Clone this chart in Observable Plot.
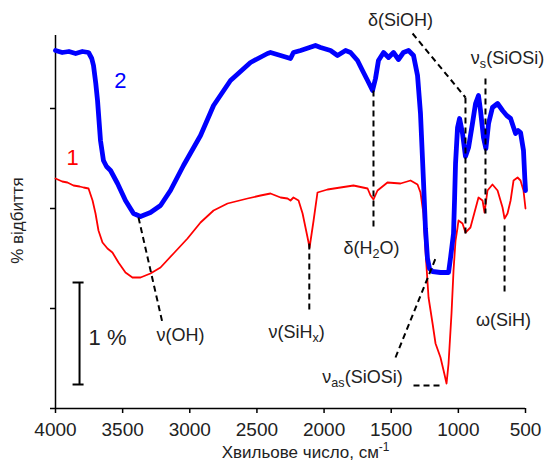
<!DOCTYPE html>
<html><head><meta charset="utf-8">
<script src="https://cdn.jsdelivr.net/npm/d3@7"></script>
<script src="https://cdn.jsdelivr.net/npm/@observablehq/plot@0.6"></script>
<style>body{margin:0;background:#fff} svg{display:block;overflow:visible}</style>
</head><body><div id="chart"></div>
<script>
// Curve 2 (blue): wavenumber (cm-1) and reflectance (%, offset scale)
const blueWn = [4000,3950,3900,3850,3800,3754,3730,3717,3700,3687,3665,3643,3620,3590,3538,3479,3419,3367,3293,3218,3144,3047,2920,2823,2697,2548,2421,2399,2324,2250,2228,2175,2064,2026,1952,1900,1840,1803,1751,1714,1676,1639,1617,1595,1557,1520,1483,1446,1409,1371,1334,1304,1282,1260,1245,1230,1215,1192,1133,1073,1058,1036,1028,1021,1006,991,969,947,924,895,872,850,835,813,795,775,746,708,671,640,611,574,555,537,515,505,500];
const blueR  = [3.58,3.56,3.57,3.55,3.57,3.56,3.50,3.43,3.25,3.08,2.68,2.48,2.42,2.38,2.25,2.08,1.95,1.92,1.96,2.03,2.18,2.43,2.73,3.03,3.28,3.46,3.55,3.56,3.53,3.50,3.56,3.58,3.63,3.61,3.58,3.53,3.58,3.56,3.48,3.38,3.28,3.18,3.30,3.48,3.56,3.51,3.56,3.49,3.56,3.58,3.53,3.33,2.95,2.28,1.80,1.50,1.40,1.37,1.36,1.36,1.51,1.75,2.10,2.45,2.81,2.90,2.75,2.52,2.61,2.85,3.05,3.13,2.98,2.71,2.60,2.85,3.01,3.05,2.98,2.93,2.90,2.75,2.78,2.76,2.58,2.30,2.18];
// Curve 1 (red)
const redWn = [4000,3950,3911,3866,3820,3791,3754,3724,3702,3680,3650,3613,3576,3531,3479,3427,3367,3293,3218,3121,3017,2920,2823,2719,2570,2473,2399,2324,2272,2250,2228,2190,2160,2123,2108,2078,2049,1974,1878,1781,1676,1654,1632,1602,1528,1431,1356,1304,1282,1260,1245,1222,1192,1170,1133,1110,1088,1073,1051,1036,1021,1006,999,969,947,910,872,850,820,805,783,746,708,671,656,634,611,589,559,537,515,500];
const redR  = [2.30,2.27,2.26,2.23,2.22,2.21,2.20,2.08,1.95,1.78,1.66,1.60,1.56,1.46,1.36,1.31,1.31,1.35,1.41,1.55,1.70,1.86,1.98,2.05,2.10,2.13,2.15,2.11,2.10,2.08,2.11,2.08,1.95,1.71,1.61,1.88,2.16,2.19,2.21,2.23,2.20,2.13,2.09,2.18,2.26,2.25,2.28,2.24,2.16,1.95,1.58,1.11,0.85,0.65,0.51,0.38,0.25,0.45,0.95,1.38,1.68,1.81,1.88,1.85,1.76,1.81,2.00,2.11,2.08,1.96,2.18,2.24,2.18,2.01,1.90,1.95,2.08,2.28,2.31,2.28,2.18,2.00];

const xTicks = [4000,3500,3000,2500,2000,1500,1000,500];
const yTicks = [0,1,2,3];

// Band assignment labels
const bandLabels = ["ν(OH)","ν(SiH_{x})","δ(H_{2}O)","δ(SiOH)","ν_{s}(SiOSi)","ω(SiH)","ν_{as}(SiOSi)"];
const bandLabelWn = [3069,2205,1647,1431,634,664,1714];
const bandLabelR  = [0.73,0.76,1.60,3.88,3.50,0.88,0.31];
// Dashed guide segments
const guideWn1 = [3382,2110,1632,1341,947,798,656,1468,1334];
const guideR1  = [1.91,1.65,3.18,3.75,3.11,3.30,1.83,0.51,0.23];
const guideWn2 = [3204,2110,1632,947,947,798,656,1170,1133];
const guideR2  = [0.86,0.98,1.78,3.11,1.73,1.95,1.15,1.50,0.23];
// Curve numbers
const curveNames = ["2","1"];
const curveNameWn = [3516,3873];
const curveNameR = [3.28,2.51];
const curveColors = ["#0000ff","#ff0000"];
// 1 % scale bar
const scaleBarWn = 3821, scaleBarLo = 0.24, scaleBarHi = 1.26, scaleCapWn = [3873,3791];
const scaleText = "1 %", scaleTextWn = 3754, scaleTextR = 0.71;
const xTitle = "Хвильове число, см^{-1}", yTitle = "% відбиття";

const blue = blueWn.map((w,i)=>({wn:w, r:blueR[i]}));
const red = redWn.map((w,i)=>({wn:w, r:redR[i]}));
const labels = bandLabels.map((t,i)=>({t, wn:bandLabelWn[i], r:bandLabelR[i]}));
const guides = guideWn1.map((w,i)=>({x1:w, y1:guideR1[i], x2:guideWn2[i], y2:guideR2[i]}));
const names = curveNames.map((t,i)=>({t, wn:curveNameWn[i], r:curveNameR[i], c:curveColors[i]}));
const caps = [scaleBarLo, scaleBarHi].map(r=>({x1:scaleCapWn[0], x2:scaleCapWn[1], r}));

const font = "Arial, 'Liberation Sans', sans-serif";
const svg = Plot.plot({
  width: 547, height: 466,
  marginLeft: 55, marginRight: 22, marginTop: 35, marginBottom: 58,
  x: {domain: [4000, 500]},
  y: {domain: [0, 3.73]},
  style: {fontFamily: font, background: "white", color: "black"},
  marks: [
    Plot.axisX({ticks: xTicks, tickSize: 5, tickPadding: 9, fontSize: 19, tickFormat: d => String(d), label: null, stroke: "black", strokeWidth: 1.5, fill: "#222"}),
    Plot.axisY({ticks: yTicks, tickSize: 5, tickFormat: () => "", label: null, stroke: "black", strokeWidth: 1.5}),
    Plot.ruleY([0], {x1: 4000, x2: 500, stroke: "black", strokeWidth: 1.5}),
    Plot.ruleX([4000], {y1: 0, y2: 3.73, stroke: "black", strokeWidth: 1.5}),
    Plot.line(red, {x: "wn", y: "r", stroke: "#ff0000", strokeWidth: 1.8}),
    Plot.line(blue, {x: "wn", y: "r", stroke: "#0000ff", strokeWidth: 4.8}),
    Plot.link(guides, {x1: "x1", y1: "y1", x2: "x2", y2: "y2", stroke: "black", strokeWidth: 2, strokeDasharray: "6,4"}),
    Plot.ruleX([scaleBarWn], {y1: scaleBarLo, y2: scaleBarHi, stroke: "black", strokeWidth: 2}),
    Plot.link(caps, {x1: "x1", x2: "x2", y1: "r", y2: "r", stroke: "black", strokeWidth: 2}),
    Plot.text(labels, {x: "wn", y: "r", text: "t", fontSize: 18, fill: "#222"}),
    Plot.text(names, {x: "wn", y: "r", text: "t", fontSize: 22, fill: "c"}),
    Plot.text([scaleText], {x: scaleTextWn, y: scaleTextR, text: d => d, fontSize: 22, textAnchor: "start", fill: "#222"}),
    Plot.text([xTitle], {x: 2138, y: -0.44, text: d => d, fontSize: 17, fill: "#222"}),
    Plot.text([yTitle], {x: 4283, y: 1.88, text: d => d, fontSize: 17, rotate: -90, fill: "#222"})
  ]
});

// Render _{..} as subscripts and ^{..} as superscripts
const NS = "http://www.w3.org/2000/svg";
svg.querySelectorAll("text").forEach(t => {
  const s = t.textContent;
  if (!/[_^]\{/.test(s)) return;
  const parts = s.split(/([_^]\{[^}]*\})/);
  t.textContent = "";
  let back = 0;
  parts.forEach(p => {
    if (!p) return;
    const m = p.match(/^([_^])\{([^}]*)\}$/);
    const ts = document.createElementNS(NS, "tspan");
    if (m) {
      const shift = m[1] === "_" ? 0.22 : -0.38; // in parent em
      ts.setAttribute("font-size", "70%");
      ts.setAttribute("dy", (shift / 0.7).toFixed(3) + "em");
      ts.textContent = m[2];
      back = -shift;
    } else {
      if (back) ts.setAttribute("dy", back.toFixed(3) + "em");
      back = 0;
      ts.textContent = p;
    }
    t.appendChild(ts);
  });
});
document.getElementById("chart").appendChild(svg);
</script>
</body></html>
